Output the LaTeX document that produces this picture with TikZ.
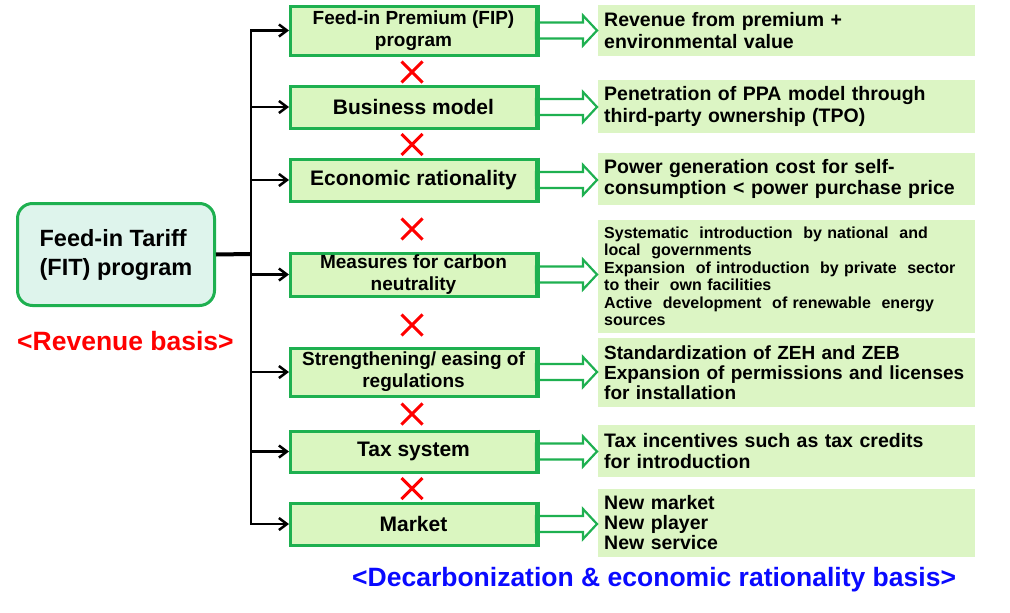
\documentclass[tikz,border=0pt]{standalone}
\usepackage{fontspec}
\setmainfont{Liberation Sans}
\usetikzlibrary{arrows.meta,calc,shapes.misc}
\hyphenpenalty=10000
\exhyphenpenalty=10000
\definecolor{grn}{RGB}{30,176,80}
\definecolor{midfill}{RGB}{218,246,192}
\definecolor{rfill}{RGB}{220,245,196}
\definecolor{lfill}{RGB}{222,244,236}
\definecolor{redx}{RGB}{255,0,0}
\definecolor{bluetxt}{RGB}{10,10,255}
\newcommand{\blkarrow}[1]{\draw[blk] ($(#1.east)+(-2,-8)$) -- ++(47,0) -- ++(0,-7) -- ++(14,15) -- ++(-14,15) -- ++(0,-7) -- ++(-47,0) -- cycle;}
\begin{document}
\begin{tikzpicture}[x=1pt,y=-1pt,
  midbox/.style={draw=grn, line width=3pt, fill=midfill, minimum width=246pt, inner sep=0pt, align=center},
  big/.style={font=\bfseries\fontsize{21}{22}\selectfont},
  small/.style={font=\bfseries\fontsize{19}{22}\selectfont},
  rbox/.style={fill=rfill, minimum width=377pt, text width=365pt, inner xsep=6pt, inner ysep=0pt, anchor=west, align=left},
  rtxt/.style={font=\bfseries\fontsize{19.5}{21.5}\selectfont},
  blk/.style={draw=grn, line width=2.2pt, fill=white, line join=miter},
  conn/.style={draw=black, line width=2.5pt, -{Straight Barb[length=8pt,width=12pt,line width=2.5pt]}},
  xmark/.style={cross out, draw=redx, line width=3pt, minimum size=18pt, inner sep=0pt}
]
\path[use as bounding box] (0,0) rectangle (1010,613);

% left box
\node[draw=grn, line width=3pt, fill=lfill, rounded corners=15pt, minimum width=197pt, minimum height=102pt, align=left,
  font=\bfseries\fontsize{23.5}{29}\selectfont] (fit) at (116,254.5) {Feed-in Tariff\\(FIT) program};
\node[anchor=west, text=redx, inner sep=0pt, font=\bfseries\fontsize{26.5}{28}\selectfont] (rev) at (17,341) {<Revenue basis>};

% centres of middle boxes
\coordinate (c1) at (413.5,30.5);
\coordinate (c2) at (413.5,107);
\coordinate (c3) at (413.5,180);
\coordinate (c4) at (413.5,274.5);
\coordinate (c5) at (413.5,372);
\coordinate (c6) at (413.5,451.5);
\coordinate (c7) at (413.5,524);

% middle boxes
\node[midbox, small, minimum height=49pt] (m1) at (c1) {Feed-in Premium (FIP)\\program};
\node[midbox, big, minimum height=42pt] (m2) at (c2) {Business model};
\node[midbox, big, minimum height=42pt] (m3) at (c3) {Economic rationality};
\node[midbox, small, minimum height=43pt] (m4) at (c4) {Measures for carbon\\neutrality};
\node[midbox, small, minimum height=48pt] (m5) at (c5) {Strengthening/ easing of\\regulations};
\node[midbox, big, minimum height=41pt] (m6) at (c6) {Tax system};
\node[midbox, big, minimum height=42pt] (m7) at (c7) {Market};

% right boxes
\node[rbox, rtxt, minimum height=51pt] (r1) at (598,30.5) {Revenue from premium +\\environmental value};
\node[rbox, rtxt, minimum height=53pt] (r2) at (598,106.5) {Penetration of PPA model through\\third-party ownership (TPO)};
\node[rbox, rtxt, minimum height=52pt] (r3) at (598,179) {Power generation cost for self-\\consumption < power purchase price};
\node[rbox, font=\bfseries\fontsize{16}{17.5}\selectfont, minimum height=113pt] (r4) at (598,276.5)
  {Systematic\ \ introduction\ \ by national\ \ and\\local\ \ governments\\Expansion\ \ of introduction\ \ by private\ \ sector\\to their\ \ own facilities\\Active\ \ development\ \ of renewable\ \ energy\\sources};
\node[rbox, font=\bfseries\fontsize{19}{20}\selectfont, minimum height=69pt] (r5) at (598,372.5) {Standardization of ZEH and ZEB\\Expansion of permissions and licenses\\for installation};
\node[rbox, rtxt, minimum height=52pt] (r6) at (598,451) {Tax incentives such as tax credits\\for introduction};
\node[rbox, font=\bfseries\fontsize{19.5}{20}\selectfont, minimum height=68pt] (r7) at (598,523) {New market\\New player\\New service};

% block arrows
\foreach \n in {m1,m2,m3,m4,m5,m6,m7}{\blkarrow{\n}}
\foreach \n in {m1,m2,m3,m4,m5,m6,m7}{\draw[grn, line width=3pt] (\n.north east) -- (\n.south east);}

% trunk and connectors
\coordinate (trunk) at (251,254);
\draw[line width=4pt] (fit.east) -- (trunk);
\foreach \n in {m1,m2,m3,m4,m5,m6,m7}{\draw[conn] (trunk) |- (\n.west);}

% red crosses
\node[xmark] (x1) at (412,72) {};
\node[xmark] (x2) at (412,144.5) {};
\node[xmark] (x3) at (412,229) {};
\node[xmark] (x4) at (412,325) {};
\node[xmark] (x5) at (412,414) {};
\node[xmark] (x6) at (412,488.5) {};

% bottom label
\node[anchor=west, text=bluetxt, inner sep=0pt, font=\bfseries\fontsize{26.5}{28}\selectfont] (dec) at (352,580) {<Decarbonization \& economic rationality basis>};
\end{tikzpicture}
\end{document}
